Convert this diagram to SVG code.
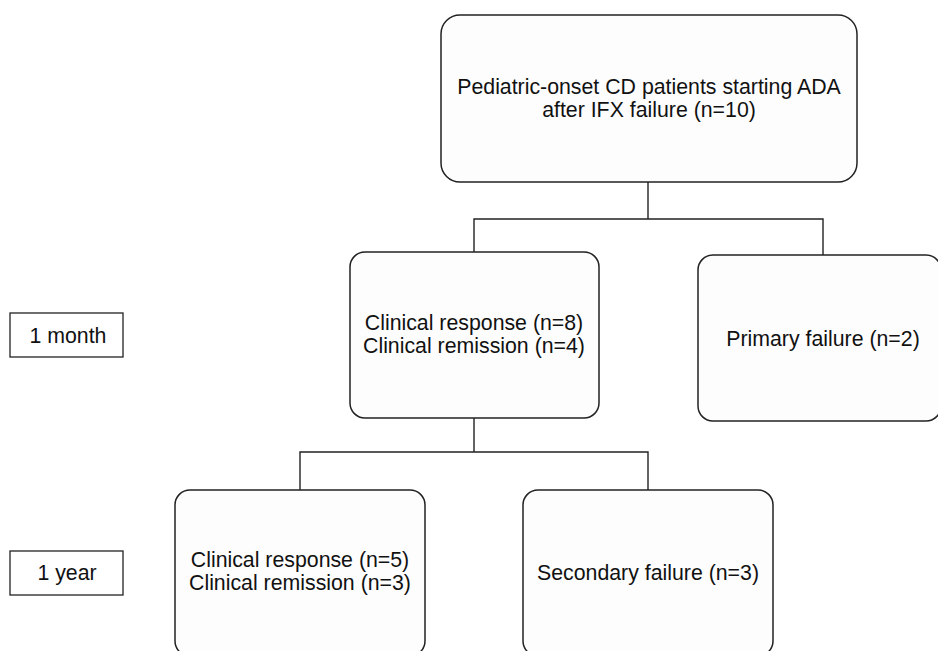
<svg xmlns="http://www.w3.org/2000/svg" width="938" height="651" viewBox="0 0 938 651">
<style>
.box{fill:#fdfdfd;stroke:#222;stroke-width:1.5}
.lbl{fill:#fff;stroke:#222;stroke-width:1.3}
.t{font-family:"Liberation Sans",Arial,sans-serif;font-size:21.3px;fill:#111;text-anchor:middle}
.c{fill:none;stroke:#222;stroke-width:1.4}
</style>
<rect width="938" height="651" fill="#fff"/>
<g id="connectors">
<path class="c" d="M648,182V219M474,252V219H823V255"/>
<path class="c" d="M474,418V452M300,490V452H648V490"/>
</g>
<g id="top">
<rect class="box" x="441" y="15" width="416" height="167" rx="19"/>
<text class="t" x="649" y="94">Pediatric-onset CD patients starting ADA</text>
<text class="t" x="649" y="117">after IFX failure (n=10)</text>
</g>
<g id="month1">
<rect class="box" x="350" y="252" width="249" height="166" rx="15"/>
<text class="t" x="474" y="330">Clinical response (n=8)</text>
<text class="t" x="474" y="353">Clinical remission (n=4)</text>
</g>
<g id="primary">
<rect class="box" x="698" y="255" width="243" height="166" rx="15"/>
<text class="t" x="823" y="346">Primary failure (n=2)</text>
</g>
<g id="year1">
<rect class="box" x="175" y="490" width="250" height="166" rx="15"/>
<text class="t" x="300" y="567">Clinical response (n=5)</text>
<text class="t" x="300" y="590">Clinical remission (n=3)</text>
</g>
<g id="secondary">
<rect class="box" x="523" y="490" width="250" height="166" rx="15"/>
<text class="t" x="648" y="580">Secondary failure (n=3)</text>
</g>
<g id="label-month">
<rect class="lbl" x="10" y="313" width="113" height="44"/>
<text class="t" x="68" y="343">1 month</text>
</g>
<g id="label-year">
<rect class="lbl" x="10" y="551" width="113" height="44"/>
<text class="t" x="67" y="580">1 year</text>
</g>
</svg>
